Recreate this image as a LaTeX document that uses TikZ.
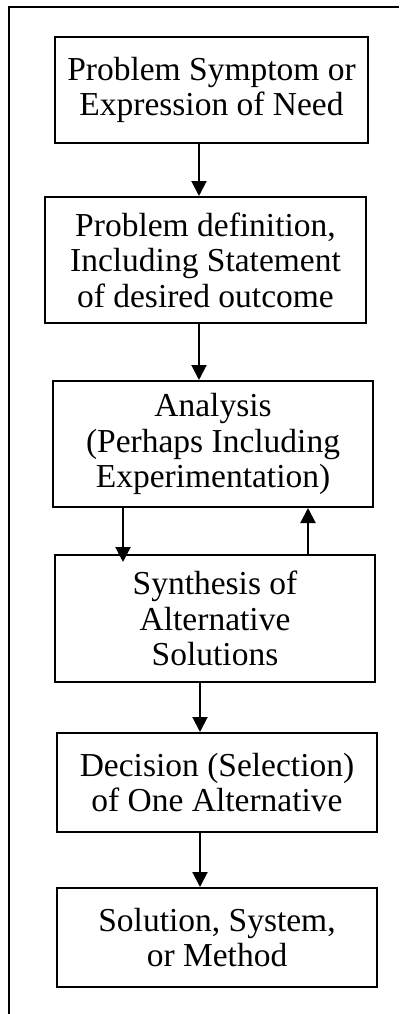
\documentclass[tikz,border=0pt]{standalone}
\usepackage{fontspec}
\setmainfont{Liberation Serif}
\usetikzlibrary{arrows.meta}
\begin{document}
\begin{tikzpicture}[x=1pt,y=-1pt,
  box/.style={draw,line width=2pt,align=center,inner sep=0pt,
    font=\fontsize{33.5}{35.5}\selectfont},
  arr/.style={line width=2pt,-{Triangle[width=15pt,length=15pt]}}]
\useasboundingbox (0,0) rectangle (399,1014);
\draw[line width=2pt] (399,7) -- (8.5,7) -- (8.5,1014);
\node[box,minimum width=313pt,minimum height=106pt] (b1) at (211.5,90) {Problem Symptom or\\Expression of Need};
\node[box,minimum width=321pt,minimum height=126pt] (b2) at (205.5,260) {Problem definition,\\Including Statement\\of desired outcome};
\node[box,minimum width=320pt,minimum height=126pt] (b3) at (213,444) {Analysis\\(Perhaps Including\\Experimentation)};
\node[box,minimum width=320pt,minimum height=127pt] (b4) at (215,618.5) {Synthesis of\\Alternative\\Solutions};
\node[box,minimum width=320pt,minimum height=99pt] (b5) at (217,782.5) {Decision (Selection)\\of One Alternative};
\node[box,minimum width=320pt,minimum height=99pt] (b6) at (217,937.5) {Solution, System,\\or Method};
\draw[arr] ([xshift=-12.5pt]b1.south) -- ([xshift=-6.5pt]b2.north);
\draw[arr] ([xshift=-6.5pt]b2.south) -- ([xshift=-14pt]b3.north);
\draw[arr] ([xshift=-90pt]b3.south) -- ([xshift=-92pt,yshift=-8pt]b4.north);
\draw[arr] ([xshift=93pt]b4.north) -- ([xshift=95pt]b3.south);
\draw[arr] ([xshift=-15pt]b4.south) -- ([xshift=-17pt]b5.north);
\draw[arr] ([xshift=-17pt]b5.south) -- ([xshift=-17pt]b6.north);
\end{tikzpicture}
\end{document}
